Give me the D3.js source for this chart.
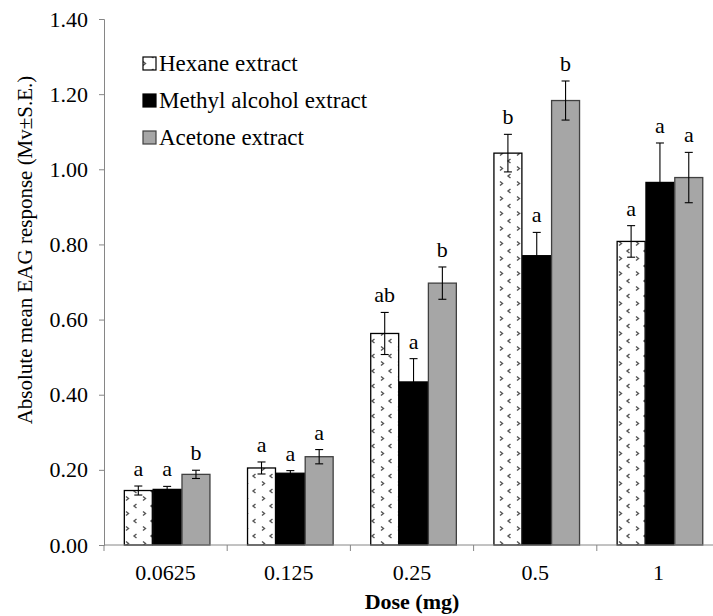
<!DOCTYPE html>
<html><head><meta charset="utf-8">
<script src="https://cdn.jsdelivr.net/npm/d3@7"></script>
<style>body{margin:0;background:#fff}svg{display:block}</style>
</head><body><svg id="c" width="713" height="616" style="font-family:'Liberation Serif','Times New Roman',serif"></svg>
<script>
const doses = ["0.0625","0.125","0.25","0.5","1"];
const seriesNames = ["Hexane extract","Methyl alcohol extract","Acetone extract"];
const hexane = [0.145,0.205,0.563,1.043,0.808];
const hexaneSE = [0.012,0.016,0.056,0.050,0.042];
const methyl = [0.148,0.191,0.434,0.770,0.965];
const methylSE = [0.008,0.007,0.062,0.062,0.105];
const acetone = [0.188,0.235,0.697,1.183,0.978];
const acetoneSE = [0.011,0.019,0.043,0.052,0.067];
const hexaneLetters = ["a","a","ab","b","a"];
const methylLetters = ["a","a","a","a","a"];
const acetoneLetters = ["b","a","b","b","a"];
const yTicks = [0,0.2,0.4,0.6,0.8,1.0,1.2,1.4];

const FONT = "'Liberation Serif','Times New Roman',serif";
const svg = d3.select("#c");
const L = 104, R = 720, T = 19, B = 545;
const x = d3.scaleBand().domain(doses).range([L, R]);
const bw = x.bandwidth();
const xs = d3.scaleBand().domain(seriesNames).range([bw*0.165, bw*0.86]).paddingInner(0.03);
const y = d3.scaleLinear().domain([0, 1.4]).range([B, T]);

const defs = svg.append("defs");
const pat = defs.append("pattern").attr("id","chev").attr("patternUnits","userSpaceOnUse")
  .attr("width",17).attr("height",15).attr("x",L+20);
pat.append("rect").attr("width",17).attr("height",15).attr("fill","#fff");
pat.append("path").attr("d","M2,1.5 L4.5,3.5 L2,5.5").attr("fill","none").attr("stroke","#555").attr("stroke-width",1.4);
pat.append("path").attr("d","M12.5,9 L10,11 L12.5,13").attr("fill","none").attr("stroke","#555").attr("stroke-width",1.4);

const fills = ["url(#chev)","#000","#a6a6a6"];
const strokes = ["#000","#000","#404040"];

// y axis
const yAxis = d3.axisLeft(y).tickValues(yTicks).tickFormat(d3.format(".2f")).tickSize(5).tickPadding(11);
const gy = svg.append("g").attr("transform",`translate(${L},0)`).call(yAxis);
gy.attr("font-family",FONT).attr("font-size",22);
gy.select(".domain").attr("stroke","#868686");
gy.selectAll(".tick line").attr("stroke","#868686");
gy.selectAll("text").style("font-family",FONT).attr("fill","#000");

const series = [
  {name:seriesNames[0], v:hexane, se:hexaneSE, lt:hexaneLetters},
  {name:seriesNames[1], v:methyl, se:methylSE, lt:methylLetters},
  {name:seriesNames[2], v:acetone, se:acetoneSE, lt:acetoneLetters}
];

series.forEach((s,si)=>{
  const g = svg.append("g");
  doses.forEach((d,i)=>{
    const x0 = x(d) + xs(s.name);
    const w = xs.bandwidth();
    g.append("rect").attr("x",x0).attr("y",y(s.v[i])).attr("width",w).attr("height",y(0)-y(s.v[i]))
      .attr("fill",fills[si]).attr("stroke",strokes[si]).attr("stroke-width",1.3);
    const cx = x0 + w/2;
    const hi = y(s.v[i]+s.se[i]), lo = y(s.v[i]-s.se[i]);
    g.append("line").attr("x1",cx).attr("x2",cx).attr("y1",hi).attr("y2",lo).attr("stroke","#000").attr("stroke-width",1.1);
    [hi,lo].forEach(yy=>g.append("line").attr("x1",cx-4).attr("x2",cx+4).attr("y1",yy).attr("y2",yy).attr("stroke","#000").attr("stroke-width",1.1));
    g.append("text").attr("x",cx).attr("y",hi-10).attr("text-anchor","middle").attr("font-size",22).style("font-family",FONT).text(s.lt[i]);
  });
});

// x axis
const gx = svg.append("g").attr("transform",`translate(0,${B})`);
gx.append("line").attr("x1",L).attr("x2",R).attr("stroke","#868686");
const bounds = doses.map(d=>x(d)).concat([R]);
gx.selectAll(".tk").data(bounds).join("line").attr("x1",d=>d).attr("x2",d=>d).attr("y1",0).attr("y2",6).attr("stroke","#868686");
gx.selectAll(".lb").data(doses).join("text").attr("x",d=>x(d)+bw/2).attr("y",35).attr("text-anchor","middle")
  .attr("font-size",22).style("font-family",FONT).text(d=>d);

svg.append("text").attr("x",(L+R)/2).attr("y",609).attr("text-anchor","middle").attr("font-size",22)
  .attr("font-weight","bold").style("font-family",FONT).text("Dose (mg)");
svg.append("text").attr("transform",`translate(32,250) rotate(-90)`).attr("text-anchor","middle")
  .attr("font-size",21).style("font-family",FONT).text("Absolute mean EAG response (Mv±S.E.)");

// legend
const lg = svg.append("g");
seriesNames.forEach((n,i)=>{
  const yy = 63 + i*37;
  lg.append("rect").attr("x",143).attr("y",yy-6).attr("width",13).attr("height",13)
    .attr("fill",fills[i]).attr("stroke",strokes[i]).attr("stroke-width",1.2);
  lg.append("text").attr("x",159).attr("y",yy+8).attr("font-size",23).style("font-family",FONT).text(n);
});
</script></body></html>
